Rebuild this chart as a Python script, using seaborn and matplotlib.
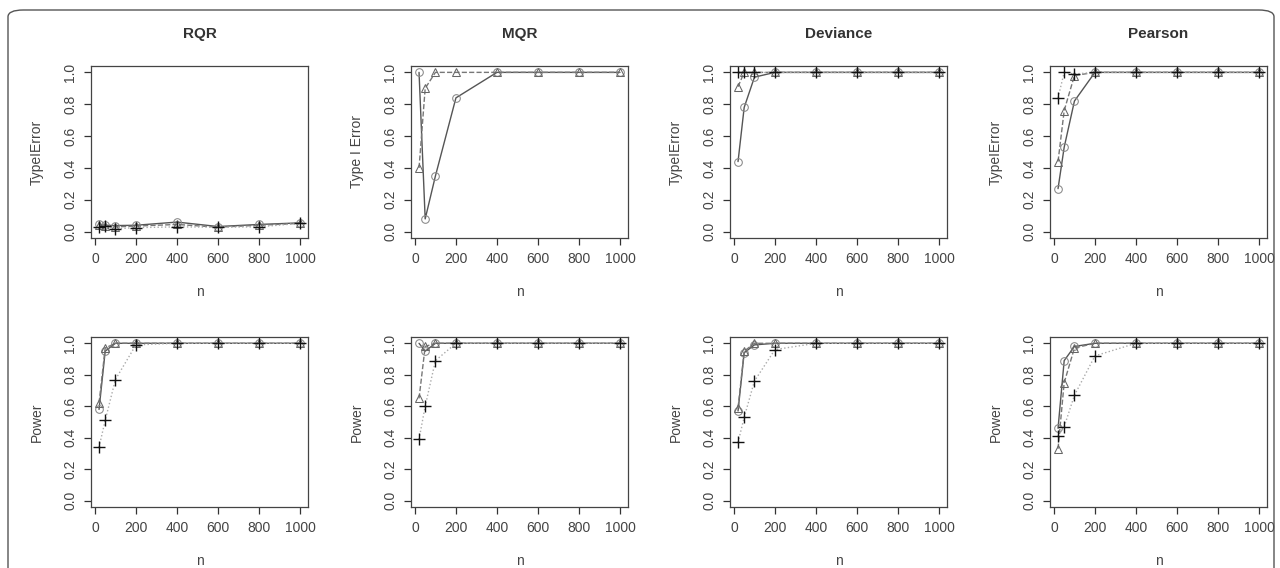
import numpy as np
import pandas as pd
import matplotlib
matplotlib.use("Agg")
import matplotlib.pyplot as plt
import seaborn as sns
from matplotlib.patches import FancyBboxPatch

sns.set_style("white")
plt.rcParams["font.family"] = ["Liberation Sans", "DejaVu Sans"]

n = [20, 50, 100, 200, 400, 600, 800, 1000]
methods = ["RQR", "MQR", "Deviance", "Pearson"]
ylabels_top = ["TypeIError", "Type I Error", "TypeIError", "TypeIError"]

# ---------- Type I error (top row) ----------
rqr_t_circ = [0.045, 0.040, 0.038, 0.040, 0.060, 0.032, 0.045, 0.055]
rqr_t_tri = [0.040, 0.035, 0.030, 0.035, 0.045, 0.028, 0.040, 0.052]
rqr_t_plus = [0.030, 0.035, 0.018, 0.025, 0.030, 0.028, 0.030, 0.052]

mqr_t_circ = [1.00, 0.08, 0.35, 0.84, 1.00, 1.00, 1.00, 1.00]
mqr_t_tri = [0.40, 0.90, 1.00, 1.00, 1.00, 1.00, 1.00, 1.00]
mqr_t_plus = [np.nan] * 8

dev_t_circ = [0.44, 0.78, 0.97, 1.00, 1.00, 1.00, 1.00, 1.00]
dev_t_tri = [0.91, 1.00, 1.00, 1.00, 1.00, 1.00, 1.00, 1.00]
dev_t_plus = [1.00, 1.00, 1.00, 1.00, 1.00, 1.00, 1.00, 1.00]

pea_t_circ = [0.27, 0.53, 0.82, 1.00, 1.00, 1.00, 1.00, 1.00]
pea_t_tri = [0.44, 0.76, 0.98, 1.00, 1.00, 1.00, 1.00, 1.00]
pea_t_plus = [0.84, 1.00, 0.99, 1.00, 1.00, 1.00, 1.00, 1.00]

# ---------- Power (bottom row) ----------
rqr_p_circ = [0.58, 0.95, 1.00, 1.00, 1.00, 1.00, 1.00, 1.00]
rqr_p_tri = [0.62, 0.97, 1.00, 1.00, 1.00, 1.00, 1.00, 1.00]
rqr_p_plus = [0.34, 0.51, 0.77, 0.99, 1.00, 1.00, 1.00, 1.00]

mqr_p_circ = [1.00, 0.95, 1.00, 1.00, 1.00, 1.00, 1.00, 1.00]
mqr_p_tri = [0.65, 0.98, 1.00, 1.00, 1.00, 1.00, 1.00, 1.00]
mqr_p_plus = [0.39, 0.60, 0.89, 1.00, 1.00, 1.00, 1.00, 1.00]

dev_p_circ = [0.57, 0.94, 0.99, 1.00, 1.00, 1.00, 1.00, 1.00]
dev_p_tri = [0.59, 0.95, 1.00, 1.00, 1.00, 1.00, 1.00, 1.00]
dev_p_plus = [0.37, 0.53, 0.76, 0.96, 1.00, 1.00, 1.00, 1.00]

pea_p_circ = [0.46, 0.89, 0.98, 1.00, 1.00, 1.00, 1.00, 1.00]
pea_p_tri = [0.33, 0.75, 0.97, 1.00, 1.00, 1.00, 1.00, 1.00]
pea_p_plus = [0.41, 0.47, 0.67, 0.92, 1.00, 1.00, 1.00, 1.00]

top = [(rqr_t_circ, rqr_t_tri, rqr_t_plus), (mqr_t_circ, mqr_t_tri, mqr_t_plus),
       (dev_t_circ, dev_t_tri, dev_t_plus), (pea_t_circ, pea_t_tri, pea_t_plus)]
bottom = [(rqr_p_circ, rqr_p_tri, rqr_p_plus), (mqr_p_circ, mqr_p_tri, mqr_p_plus),
          (dev_p_circ, dev_p_tri, dev_p_plus), (pea_p_circ, pea_p_tri, pea_p_plus)]

styles = [
    dict(linestyle="-", color="#555555", marker="o", markerfacecolor="none",
         markeredgecolor="#888888", markersize=5.5, linewidth=1.0),
    dict(linestyle="--", color="#777777", marker="^", markerfacecolor="none",
         markeredgecolor="#666666", markersize=5.5, linewidth=1.0),
    dict(linestyle=":", color="#aaaaaa", marker="+", markerfacecolor="none",
         markeredgecolor="#111111", markersize=8, linewidth=1.0, markeredgewidth=1.0),
]

fig = plt.figure(figsize=(12.8, 5.68), dpi=100)
W, H = 1280, 568
col_left = [91, 411, 730, 1050]
ax_w = 217
rows = [(66, 238), (337, 507)]


def draw_panel(ax, series, ylabel):
    for vals, st in zip(series, styles):
        df = pd.DataFrame({"n": n, "v": vals})
        sns.lineplot(data=df, x="n", y="v", ax=ax, **st)
    ax.set_xlim(-19.2, 1039.2)
    ax.set_ylim(-0.04, 1.04)
    ax.set_xticks([0, 200, 400, 600, 800, 1000])
    ax.set_yticks([0.0, 0.2, 0.4, 0.6, 0.8, 1.0])
    ax.set_yticklabels(["0.0", "0.2", "0.4", "0.6", "0.8", "1.0"],
                       rotation=90, va="center")
    ax.tick_params(axis="both", direction="out", length=5, width=0.9,
                   colors="#333333", labelsize=10, labelcolor="#444444",
                   left=True, bottom=True, pad=5)
    for sp in ax.spines.values():
        sp.set_color("#444444")
        sp.set_linewidth(0.9)
    ax.set_xlabel("n", fontsize=10, color="#444444", labelpad=14)
    ax.set_ylabel(ylabel, fontsize=10, color="#444444", labelpad=14)


for r, (y0, y1) in enumerate(rows):
    for c, m in enumerate(methods):
        ax = fig.add_axes([col_left[c] / W, 1 - y1 / H, ax_w / W, (y1 - y0) / H])
        if r == 0:
            draw_panel(ax, top[c], ylabels_top[c])
            ax.set_title(m, fontsize=11, fontweight="bold", color="#333333", pad=20)
        else:
            draw_panel(ax, bottom[c], "Power")

frame = FancyBboxPatch((8 / W, -0.05), 1266 / W, 1.0 - 10 / H + 0.05,
                       boxstyle="round,pad=0,rounding_size=0.012",
                       transform=fig.transFigure, fill=False,
                       edgecolor="#555555", linewidth=1.0)
fig.patches.append(frame)

fig.savefig("out.png", dpi=100)
